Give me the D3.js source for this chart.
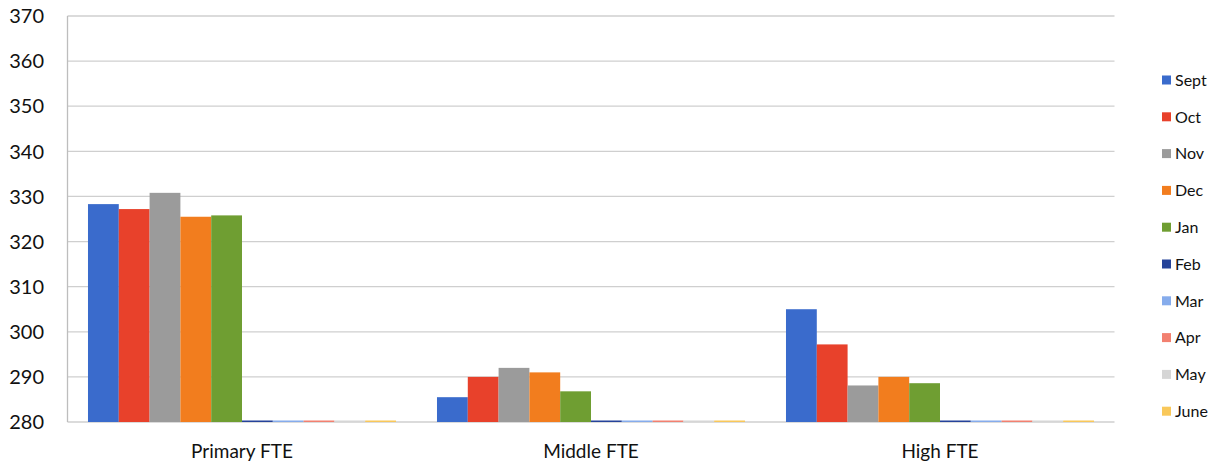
<!DOCTYPE html>
<html>
<head>
<meta charset="utf-8">
<script src="https://cdn.jsdelivr.net/npm/d3@7"></script>
<style>
  body { margin: 0; background: #fff; }
  text { font-family: Lato, "Open Sans", sans-serif; fill: #111; }
</style>
</head>
<body>
<svg id="chart" width="1218" height="465"></svg>
<script>
const WIDTH = 1218;
const HEIGHT = 465;

// data
const categories = ['Primary FTE', 'Middle FTE', 'High FTE'];
const months = ['Sept', 'Oct', 'Nov', 'Dec', 'Jan', 'Feb', 'Mar', 'Apr', 'May', 'June'];
const primaryValues = [328.3, 327.2, 330.8, 325.5, 325.8, 0, 0, 0, 0, 0];
const middleValues = [285.5, 290.0, 292.0, 291.0, 286.8, 0, 0, 0, 0, 0];
const highValues = [305.0, 297.2, 288.1, 290.0, 288.6, 0, 0, 0, 0, 0];
const yTicks = [280, 290, 300, 310, 320, 330, 340, 350, 360, 370];

const monthColors = ['#3a6bcc', '#e8412b', '#9b9b9b', '#f27d1e', '#6f9e32',
  '#25439a', '#86acec', '#f28070', '#d6d6d6', '#f9c85a'];

const seriesByCategory = [primaryValues, middleValues, highValues];

const margin = { left: 67.5, right: 103.5, top: 16, bottom: 43 };

const svg = d3.select('#chart');

const x0 = d3.scaleBand()
  .domain(categories)
  .range([margin.left, WIDTH - margin.right]);

const x1 = d3.scaleBand()
  .domain(months)
  .range([0, x0.bandwidth()])
  .paddingOuter(0.665);

const y = d3.scaleLinear()
  .domain([280, 370])
  .range([HEIGHT - margin.bottom, margin.top])
  .clamp(true);

// gridlines
svg.append('g')
  .selectAll('line')
  .data(yTicks)
  .join('line')
  .attr('x1', margin.left)
  .attr('x2', WIDTH - margin.right)
  .attr('y1', d => y(d))
  .attr('y2', d => y(d))
  .attr('stroke', '#cfcfcf')
  .attr('stroke-width', 1.3);

// left axis line
svg.append('line')
  .attr('x1', margin.left)
  .attr('x2', margin.left)
  .attr('y1', y(370))
  .attr('y2', y(280))
  .attr('stroke', '#bdbdbd')
  .attr('stroke-width', 1.3);

// y tick labels
svg.append('g')
  .selectAll('text')
  .data(yTicks)
  .join('text')
  .attr('x', 44)
  .attr('y', d => y(d))
  .attr('dy', '0.36em')
  .attr('text-anchor', 'end')
  .style('font-size', '20px')
  .text(d => d);

// bars
const groups = svg.append('g')
  .selectAll('g')
  .data(categories)
  .join('g')
  .attr('transform', d => `translate(${x0(d)},0)`);

groups.selectAll('rect')
  .data((d, i) => months.map((m, j) => ({ month: m, value: seriesByCategory[i][j], color: monthColors[j] })))
  .join('rect')
  .attr('x', d => x1(d.month))
  .attr('width', x1.bandwidth())
  .attr('y', d => Math.min(y(d.value), y(280) - 1.5))
  .attr('height', d => Math.max(y(280) - y(d.value), 1.5))
  .attr('fill', d => d.color);

// category labels
svg.append('g')
  .selectAll('text')
  .data(categories)
  .join('text')
  .attr('x', d => x0(d) + x0.bandwidth() / 2)
  .attr('y', 451)
  .attr('dy', '0.36em')
  .attr('text-anchor', 'middle')
  .style('font-size', '19px')
  .text(d => d);

// legend
const legend = svg.append('g')
  .selectAll('g')
  .data(months)
  .join('g')
  .attr('transform', (d, i) => `translate(1162,${80 + i * 36.8})`);

legend.append('rect')
  .attr('x', 0)
  .attr('y', -4.5)
  .attr('width', 9)
  .attr('height', 9)
  .attr('fill', (d, i) => monthColors[i]);

legend.append('text')
  .attr('x', 13)
  .attr('y', 0)
  .attr('dy', '0.36em')
  .style('font-size', '16px')
  .text(d => d);
</script>
</body>
</html>
